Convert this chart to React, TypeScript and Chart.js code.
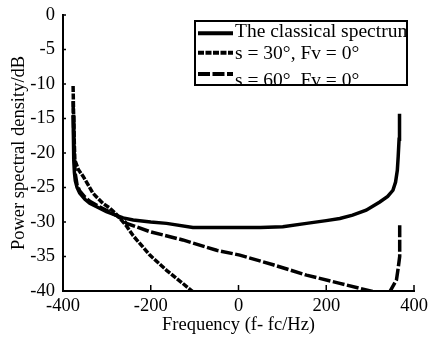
import { useEffect, useRef } from 'react';
import { Chart, registerables } from 'chart.js';

Chart.register(...registerables);

// ---- Data ----
const xTickValues = [-400, -200, 0, 200, 400];
const yTickValues = [0, -5, -10, -15, -20, -25, -30, -35, -40];

const seriesLabels = ['The classical spectrum', 's = 30°, Fv = 0°', 's = 60°, Fv = 0°'];

const classicalFreq = [-377, -376, -375, -374, -372, -368, -362, -350, -339, -320, -301, -280, -263, -240, -200, -164, -104, -50, 0, 50, 101, 155, 200, 231, 260, 291, 322, 340, 352, 358, 362, 364, 366, 367];
const classicalDb = [-14.5, -18, -21, -22.8, -24, -25, -25.8, -26.7, -27.3, -27.9, -28.5, -29.0, -29.4, -29.7, -30.0, -30.2, -30.8, -30.8, -30.8, -30.8, -30.7, -30.2, -29.8, -29.5, -29.0, -28.3, -27.1, -26.3, -25.4, -24.2, -22.5, -20.5, -18, -14.3];

const s30Freq = [-377, -376.5, -376, -375, -374, -373, -365, -354, -343, -332, -320, -309, -293, -278, -270, -255, -240, -202, -164, -127, -104, -98];
const s30Db = [-10.3, -12, -14, -16.5, -19, -21, -22.4, -23.4, -24.6, -25.8, -26.6, -27.3, -28.0, -28.9, -29.5, -30.6, -32.0, -34.8, -37.0, -38.9, -40.1, -40.6];

const s60Freq = [-377, -376, -375, -374, -372, -368, -362, -350, -339, -320, -301, -280, -263, -255, -202, -127, -50, 3, 79, 155, 231, 307, 325, 345, 360, 363.5, 367.4, 367.4];
const s60Db = [-12.5, -16, -19, -21, -23, -24.6, -25.5, -26.4, -27.0, -27.7, -28.3, -29.0, -29.7, -30.2, -31.4, -32.6, -34.1, -34.8, -36.2, -37.7, -38.9, -40.1, -40.6, -40.1, -38.4, -36.9, -35, -30.2];

const toPoints = (xs: number[], ys: number[]) => xs.map((x, i) => ({ x, y: ys[i] }));

const FONT = "'Liberation Serif', 'Times New Roman', serif";
const FS = 18.5;
const LEGEND_FS = 19.5;

const innerTicks = {
  id: 'innerTicks',
  afterDraw(chart: any) {
    const ctx = chart.ctx;
    const xs = chart.scales.x;
    const ys = chart.scales.y;
    const { left, bottom } = chart.chartArea;
    ctx.save();
    ctx.strokeStyle = '#000';
    ctx.lineWidth = 1.5;
    ctx.beginPath();
    xTickValues.forEach((v) => {
      const px = xs.getPixelForValue(v);
      ctx.moveTo(px, bottom);
      ctx.lineTo(px, bottom - 6);
    });
    yTickValues.forEach((v) => {
      const py = ys.getPixelForValue(v);
      ctx.moveTo(left, py);
      ctx.lineTo(left + 3, py);
    });
    ctx.stroke();
    ctx.restore();
  },
};

const boxLegend = {
  id: 'boxLegend',
  afterDraw(chart: any) {
    const ctx = chart.ctx;
    const { left, top } = chart.chartArea;
    const bx = left + 132;
    const by = top + 6;
    const bw = 212;
    const bh = 64;
    const lineY = [12.3, 31.7, 53];
    const textY = [16.3, 38, 64.5];
    ctx.save();
    ctx.fillStyle = '#fff';
    ctx.fillRect(bx, by, bw, bh);
    ctx.beginPath();
    ctx.rect(bx, by, bw, bh);
    ctx.clip();
    chart.data.datasets.forEach((ds: any, i: number) => {
      ctx.save();
      ctx.strokeStyle = '#000';
      ctx.lineWidth = 4;
      ctx.setLineDash(ds.borderDash || []);
      ctx.beginPath();
      ctx.moveTo(bx + 3, by + lineY[i]);
      ctx.lineTo(bx + 38, by + lineY[i]);
      ctx.stroke();
      ctx.restore();
      ctx.fillStyle = '#000';
      ctx.font = `${LEGEND_FS}px ${FONT}`;
      ctx.textBaseline = 'alphabetic';
      ctx.textAlign = 'left';
      ctx.fillText(ds.label, bx + 40, by + textY[i]);
    });
    ctx.restore();
    ctx.save();
    ctx.strokeStyle = '#000';
    ctx.lineWidth = 2;
    ctx.strokeRect(bx, by, bw, bh);
    ctx.restore();
  },
};

export default function App() {
  const canvasRef = useRef<HTMLCanvasElement | null>(null);

  useEffect(() => {
    document.body.style.margin = '0';
    const canvas = canvasRef.current;
    if (!canvas) return;
    Chart.defaults.font.family = FONT;
    Chart.defaults.color = '#000';
    const chart = new Chart(canvas, {
      type: 'line',
      data: {
        datasets: [
          {
            label: seriesLabels[0],
            data: toPoints(classicalFreq, classicalDb),
            borderColor: '#000',
            borderWidth: 3.5,
            pointRadius: 0,
            tension: 0,
          },
          {
            label: seriesLabels[1],
            data: toPoints(s30Freq, s30Db),
            borderColor: '#000',
            borderWidth: 3.5,
            borderDash: [6, 1.5],
            pointRadius: 0,
            tension: 0,
          },
          {
            label: seriesLabels[2],
            data: toPoints(s60Freq, s60Db),
            borderColor: '#000',
            borderWidth: 3.5,
            borderDash: [12, 2.5],
            pointRadius: 0,
            tension: 0,
          },
        ],
      },
      options: {
        animation: false,
        responsive: true,
        maintainAspectRatio: false,
        layout: { padding: { top: 15, right: 18, left: 0, bottom: 0 } },
        plugins: {
          legend: { display: false },
          tooltip: { enabled: false },
        },
        scales: {
          x: {
            type: 'linear',
            min: -400,
            max: 400,
            afterBuildTicks: (s: any) => {
              s.ticks = xTickValues.map((v) => ({ value: v }));
            },
            afterFit: (s: any) => {
              s.height = 46;
              s.paddingLeft = 0;
              s.paddingRight = 0;
            },
            ticks: { font: { size: FS }, color: '#000', padding: 4, maxRotation: 0 },
            grid: { display: false, drawTicks: false },
            border: { display: true, color: '#000', width: 2 },
            title: {
              display: true,
              text: 'Frequency (f- fc/Hz)',
              font: { size: FS },
              color: '#000',
              padding: { top: 0, bottom: 1 },
            },
          },
          y: {
            type: 'linear',
            min: -40,
            max: 0,
            afterBuildTicks: (s: any) => {
              s.ticks = yTickValues.map((v) => ({ value: v }));
            },
            afterFit: (s: any) => {
              s.width = 63;
              s.paddingTop = 0;
              s.paddingBottom = 0;
            },
            ticks: { font: { size: FS }, color: '#000', padding: 8 },
            grid: { display: false, drawTicks: false },
            border: { display: true, color: '#000', width: 2 },
            title: {
              display: true,
              text: 'Power spectral density/dB',
              font: { size: FS },
              color: '#000',
              padding: { top: 8, bottom: 0 },
            },
          },
        },
      },
      plugins: [innerTicks, boxLegend],
    });
    return () => chart.destroy();
  }, []);

  return (
    <div style={{ position: 'relative', width: 432, height: 337 }}>
      <canvas ref={canvasRef} />
    </div>
  );
}
